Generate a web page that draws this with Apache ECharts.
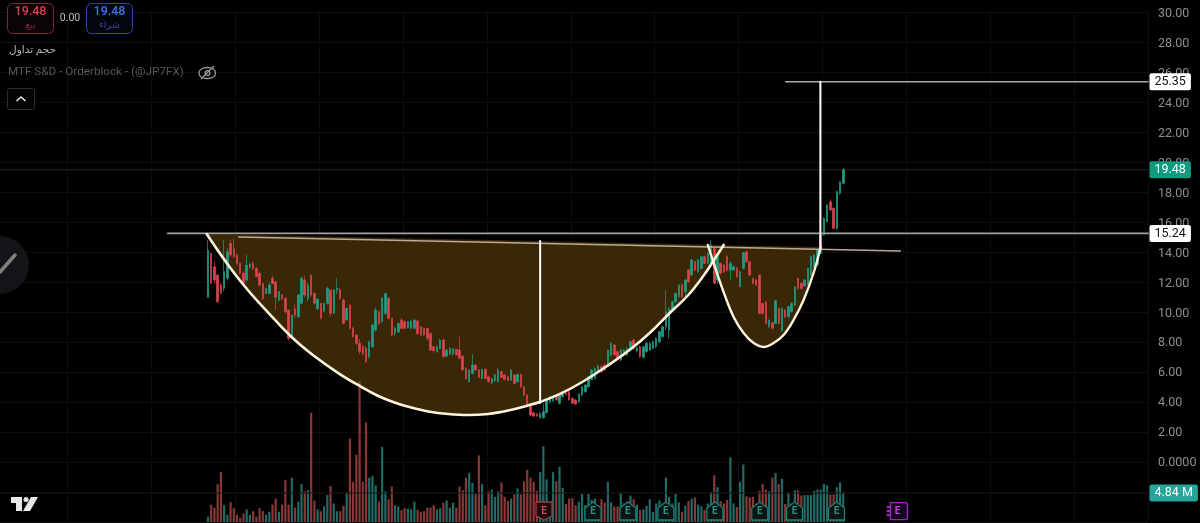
<!DOCTYPE html>
<html>
<head>
<meta charset="utf-8">
<style>html,body{margin:0;padding:0;background:#000}#c{width:1200px;height:523px}</style>
<script src="https://cdn.jsdelivr.net/npm/echarts@6/dist/echarts.min.js"></script>
</head>
<body>
<div id="c"></div>
<script>
// [open, close, low, high]
const candles = [
[10.96,14.13,10.96,14.8],[13.91,11.91,11.9,13.9],[13.02,12.13,11.9,13.35],[12.47,10.69,10.58,12.47],[11.8,11.24,11.2,11.9],
[11.58,12.69,11.36,14.8],[12.24,14.02,12.1,14.25],[14.58,13.8,13.7,14.8],[14.24,13.69,13.6,14.9],[13.8,13.24,13.1,13.9],
[13.24,12.58,12.5,13.3],[12.58,11.9,11.7,12.7],[12.13,13.13,12.0,13.8],[13.0,13.2,12.9,13.3],[13.24,12.9,12.8,13.4],
[12.9,12.36,12.3,13.0],[12.58,11.8,11.7,12.7],[11.9,10.9,10.8,11.95],[11.24,11.58,11.2,11.6],[11.24,11.8,11.2,12.0],
[12.24,11.9,11.85,12.4],[12.0,11.0,10.13,12.05],[10.8,11.36,10.7,11.4],[11.13,10.87,10.8,11.2],[10.9,10.02,9.9,11.0],
[10.13,8.24,8.1,10.15],[8.24,9.8,8.2,9.8],[10.2,9.8,9.6,10.5],[9.69,11.13,9.6,11.2],[10.58,12.24,10.5,12.4],
[12.13,11.13,11.0,12.4],[10.9,11.8,10.7,12.0],[12.47,11.13,11.0,12.5],[11.24,10.58,10.5,11.3],[10.24,10.87,10.1,10.9],
[10.58,9.58,9.5,10.6],[10.07,10.58,10.0,10.6],[10.58,11.58,10.5,11.7],[11.47,9.91,9.7,11.5],[9.91,11.47,9.9,11.5],
[11.45,11.6,11.2,12.25],[11.47,10.91,10.8,11.6],[10.8,9.24,9.2,10.9],[9.47,10.24,9.4,10.3],[10.47,8.91,8.85,10.5],
[8.91,8.36,8.3,9.0],[8.47,7.91,7.8,8.5],[7.91,7.36,7.2,8.2],[7.69,7.24,7.1,7.8],[7.58,6.69,6.6,7.7],
[7.02,8.02,6.9,8.1],[7.69,9.13,7.6,9.2],[8.8,10.13,8.7,10.3],[10.02,9.24,9.1,10.1],[9.35,10.91,9.3,11.0],
[9.91,11.24,9.8,11.25],[10.91,9.58,9.5,11.0],[9.58,8.46,8.4,9.6],[8.57,8.91,8.4,9.0],[8.68,9.24,8.6,9.3],
[9.46,8.91,8.85,9.6],[9.35,8.91,8.85,9.45],[8.95,9.35,8.9,9.4],[8.91,9.4,8.85,9.45],[8.91,9.46,8.85,9.5],
[9.4,8.57,8.5,9.45],[9.02,8.46,8.4,9.05],[8.91,8.46,8.4,8.95],[8.91,8.24,8.1,8.95],[8.57,7.46,7.4,8.6],
[7.69,7.42,7.3,7.75],[7.35,7.69,7.3,7.75],[7.57,8.13,7.5,8.2],[8.13,7.02,6.95,8.2],[7.06,7.46,7.0,7.5],
[7.2,7.57,7.15,7.65],[7.2,7.57,7.1,7.6],[7.5,7.13,7.1,7.55],[7.46,6.91,6.85,8.35],[7.06,6.13,6.1,7.1],
[6.24,5.57,5.5,6.3],[5.35,6.13,5.3,6.15],[5.91,6.46,5.85,7.2],[6.46,6.13,6.1,6.5],[6.13,5.64,5.6,6.2],
[5.57,6.17,5.5,6.2],[6.17,5.57,5.5,6.25],[5.68,5.35,5.3,5.7],[5.28,5.57,5.2,5.6],[5.42,5.8,5.35,5.9],
[5.35,6.13,5.3,6.25],[6.02,5.64,5.6,6.1],[5.8,5.51,5.45,5.85],[5.68,5.42,5.4,5.75],[5.46,6.13,5.4,6.2],
[5.8,5.24,5.2,5.85],[5.35,5.84,5.3,5.9],[5.84,5.02,4.95,5.9],[5.02,4.46,4.4,5.05],[4.46,3.8,3.7,4.5],
[3.86,3.13,3.05,3.9],[3.28,3.06,3.0,3.35],[3.2,3.06,3.0,3.25],[2.95,3.24,2.9,3.35],[2.95,3.35,2.9,3.9],
[3.3,4.1,3.2,4.15],[4.02,4.36,3.9,4.4],[4.09,4.31,4.0,4.4],[4.36,4.13,4.1,4.4],[3.91,4.47,3.85,4.5],
[4.36,4.58,4.3,4.6],[4.6,4.5,4.45,4.65],[4.69,4.13,4.1,4.75],[4.24,3.91,3.85,4.3],[4.13,3.87,3.8,4.2],
[4.02,4.53,3.95,4.55],[4.47,5.02,4.4,5.05],[4.69,5.13,4.6,5.2],[5.02,5.69,4.95,5.75],[5.51,6.13,5.45,6.2],
[5.58,6.24,5.5,6.3],[6.02,6.4,5.95,6.5],[6.36,6.02,5.95,6.4],[6.47,6.13,6.1,6.55],[6.47,7.47,6.4,7.5],
[7.13,7.91,7.05,8.0],[7.8,7.13,7.1,7.85],[7.36,6.91,6.8,7.4],[6.8,7.47,6.7,7.55],[7.13,7.47,7.05,7.55],
[7.13,7.58,7.05,7.65],[7.58,8.02,7.5,8.1],[8.13,7.58,7.5,8.2],[7.4,7.6,7.3,7.7],[7.69,7.02,6.95,7.75],
[6.98,7.69,6.9,7.75],[7.36,7.91,7.3,8.0],[7.47,7.91,7.4,8.0],[7.58,8.02,7.5,8.1],[7.69,8.24,7.6,8.3],
[8.02,8.69,7.95,8.75],[8.36,9.02,8.3,9.1],[9.02,10.02,8.8,11.47],[8.8,10.24,8.25,10.3],[10.13,10.69,10.05,10.75],
[10.69,11.24,10.6,11.3],[11.02,11.8,10.95,11.85],[11.8,11.02,10.95,11.9],[11.36,12.13,10.9,12.2],[12.8,12.02,11.95,12.85],
[12.47,13.47,12.4,13.55],[13.36,12.8,12.7,13.4],[12.69,13.47,12.6,13.55],[12.91,13.69,12.85,13.75],[13.69,13.24,13.2,13.75],
[13.24,13.91,13.2,14.0],[13.24,14.47,13.2,14.8],[14.24,11.91,11.9,14.3],[12.13,13.69,11.9,13.75],[13.24,12.58,12.5,13.3],
[13.13,12.69,12.6,13.2],[13.69,12.8,12.7,13.8],[12.8,13.24,12.13,13.4],[12.8,13.02,12.75,13.1],[12.91,12.35,12.3,13.0],
[11.69,12.69,11.65,12.75],[12.91,13.95,12.85,14.0],[14.0,13.35,13.3,14.1],[13.35,12.46,12.4,13.4],[12.24,11.91,11.85,12.3],
[12.13,11.8,11.75,12.2],[12.46,9.91,9.85,12.5],[10.57,9.91,9.85,10.6],[10.68,9.24,9.2,10.7],[9.02,9.46,8.95,9.5],
[9.28,8.91,8.85,9.35],[9.24,10.75,9.2,10.8],[10.24,9.24,9.2,10.3],[8.75,10.24,8.7,10.3],[10.13,9.68,9.6,10.2],
[9.68,10.35,9.6,10.4],[10.02,10.57,9.95,10.65],[10.46,11.68,10.4,11.7],[12.24,11.57,11.5,12.3],[11.91,11.57,11.5,11.95],
[11.73,12.13,11.7,12.2],[11.8,12.91,11.75,12.95],[12.46,13.68,12.4,13.75],[13.02,13.8,12.95,13.9],[13.13,14.13,13.1,14.2],
[13.91,15.13,13.85,15.2],[15.13,16.24,15.1,16.3],[16.02,17.13,16.0,17.2],[17.35,16.8,16.75,17.5],[16.91,15.57,15.5,17.0],
[15.57,18.02,15.5,18.1],[17.91,18.68,17.8,18.7],[18.57,19.48,18.5,19.6]
];
// volume, millions
const volumes = [
0.9,2.9,2.4,6.3,8.3,2.8,1.2,3.3,2.3,1.2,0.7,1.4,2.1,1.2,1.8,0.9,2.3,1.8,1.2,1.7,
2.9,3.9,1.7,2.9,7.0,2.9,7.4,2.4,3.4,6.3,5.1,5.3,18.2,3.6,2.1,1.8,2.6,4.5,6.0,3.1,
1.8,1.8,2.7,4.9,13.9,6.7,11.2,23.5,6.7,16.6,7.4,7.7,6.1,3.4,12.5,5.1,3.8,5.9,2.8,2.6,
2.0,2.3,2.2,2.1,3.4,2.0,1.7,1.8,2.4,2.4,2.8,2.1,2.3,3.2,3.6,2.4,3.2,2.4,5.9,5.3,
7.4,8.2,6.5,4.7,11.1,6.3,2.8,5.1,5.4,4.2,5.1,6.6,4.2,3.5,3.9,4.6,5.6,4.6,6.8,8.7,
7.4,6.7,5.2,8.3,12.6,7.1,2.2,8.3,6.8,9.2,5.7,3.0,3.9,4.0,2.8,3.4,4.7,2.8,4.7,3.7,
3.9,2.8,3.8,3.2,6.7,3.3,2.6,2.6,4.8,3.1,3.4,4.4,3.8,2.9,2.0,2.1,2.7,3.8,1.7,3.1,
3.6,3.1,7.4,4.2,3.1,4.7,3.3,1.7,2.7,3.5,3.9,4.1,2.9,2.6,2.0,3.1,4.9,7.8,5.8,3.5,
3.1,3.7,10.8,3.1,2.5,6.7,9.6,4.3,4.1,4.2,3.1,5.2,6.3,5.4,5.1,7.4,8.2,6.3,7.2,3.0,
4.8,3.1,5.3,5.3,4.4,4.5,4.5,4.5,5.2,5.4,5.4,6.3,6.1,4.6,4.6,5.8,6.6,4.84
];
// brush curves: [bar position, price]
const cupCurve = [[63.6,15.2],[70.7,13.0],[76.6,11.4],[82.8,9.93],[89.9,8.33],[96.1,7.2],[104.4,5.93],[111.6,5.0],[116.8,4.4],[121.8,3.97],[127.0,3.63],[132.3,3.37],[138.5,3.2],[144.7,3.13],[150.9,3.2],[157.1,3.43],[163.3,3.77],[167.3,4.03],[173.5,4.57],[180.6,5.4],[188.0,6.43],[195.1,7.53],[201.3,8.67],[206.9,9.87],[212.8,11.1],[217.7,12.43],[220.8,13.43],[223.9,14.47]];
const handleCurve = [[219.0,14.47],[220.8,13.27],[223.9,11.33],[227.0,9.67],[230.1,8.6],[233.2,7.93],[236.3,7.67],[239.4,7.93],[242.5,8.47],[245.6,9.47],[248.7,10.8],[251.8,12.6],[254.0,14.33]];
const cupDepthLine = [[167.0,14.73],[167.0,3.93]];
const breakoutLine = [[253.9,14.33],[253.9,25.35]];
const targetLine = [[243.1,25.35],[355.5,25.35]];
const resistanceLine = [[51.5,15.24],[355.5,15.24]];
const trendLine = [[73.5,15.0],[278.7,14.07]];
const lastPriceLine = [[-0.5,19.48],[355.5,19.48]];
const lastVolumeLine = [[-0.5,4.84],[355.5,4.84]];
const earningsPast = [[183.4,-3.27],[194.2,-3.27],[206.0,-3.27],[221.2,-3.27],[235.1,-3.27],[245.9,-3.27],[258.9,-3.27]];
const earningsMiss = [[168.2,-3.27]];
const earningsNext = [[277.8,-3.27]];
const leadingBars = 64;
const totalBars = 356;

const UP = '#1f9d88', DOWN = '#d9444f', UPV = '#1f6b66', DOWNV = '#873838';
const categories = Array.from({length: totalBars}, (_, i) => String(i));
const pad = Array(leadingBars).fill(['-','-','-','-']);
const padV = Array(leadingBars).fill('-');
const FONT = 'Roboto, "DejaVu Sans", sans-serif';

function polyFill(points, z) {
  return {
    type: 'custom', xAxisIndex: 1, yAxisIndex: 0, z, silent: true, clip: false,
    data: points,
    renderItem: (params, api) => params.dataIndex === 0 ? {
      type: 'polygon',
      shape: {points: points.map(p => api.coord(p))},
      style: {fill: '#3a2706'}
    } : null
  };
}
function seg(data, color, width, z, yAxisIndex) {
  return {type: 'line', xAxisIndex: 1, yAxisIndex: yAxisIndex || 0, data, symbol: 'none', silent: true, z,
          lineStyle: {color, width, cap: 'round'}, animation: false};
}
function valueTag(point, text, bg, fg) {
  return {type: 'scatter', xAxisIndex: 1, yAxisIndex: point.vol ? 1 : 0, z: 20, silent: true,
    data: [[355.5, point.v]], symbolSize: 1, itemStyle: {color: 'transparent', opacity: 1}, clip: false,
    label: {show: true, position: 'right', distance: 1, formatter: text, color: fg, backgroundColor: bg,
            fontFamily: FONT, fontSize: 12.5, padding: [4, 5, 1, 5], borderRadius: 2, lineHeight: 12, opacity: 1}};
}
function earn(data, path, fill, stroke, txt, size) {
  return {type: 'scatter', xAxisIndex: 1, yAxisIndex: 0, z: 8, silent: true, data,
    symbol: 'path://' + path, symbolSize: size,
    itemStyle: {color: fill, borderColor: stroke, borderWidth: 1.3, opacity: 1},
    label: {show: true, position: 'inside', formatter: 'E', color: txt, fontFamily: FONT, fontSize: 10, fontWeight: 'bold'}};
}

const uiText = (x, y, text, color, size, extra) => ({
  type: 'text', x, y, z: 100, silent: true,
  style: {text, fill: color, font: (extra && extra.weight || 'normal') + ' ' + size + 'px ' + FONT,
    textAlign: extra && extra.align || 'left', textVerticalAlign: 'middle'}
});

const chart = echarts.init(document.getElementById('c'), null, {renderer: 'canvas'});
chart.setOption({
  animation: false,
  backgroundColor: '#000',
  grid: [
    {left: -2, right: 52, top: 12, bottom: 1, containLabel: false},
    {left: -2, right: 52, top: 14, bottom: -1, containLabel: false}
  ],
  xAxis: [
    {type: 'category', data: categories, axisLine: {show: false}, axisTick: {show: false}, axisLabel: {show: false},
     splitLine: {show: true, interval: i => i % 26 === 21, lineStyle: {color: '#0e0e0e', width: 1}}},
    {type: 'value', min: -0.5, max: 355.5, show: false, splitLine: {show: false}},
    {type: 'value', gridIndex: 1, min: -0.5, max: 355.5, show: false, splitLine: {show: false}}
  ],
  yAxis: [
    {type: 'value', position: 'right', min: -4, max: 30, interval: 2,
     axisLine: {show: false}, axisTick: {show: false}, axisLabel: {show: false},
     splitLine: {show: true, lineStyle: {color: '#0e0e0e', width: 1}}},
    {type: 'value', min: 0, max: 85, show: false, splitLine: {show: false}},
    {type: 'value', gridIndex: 1, position: 'right', min: -4, max: 30, interval: 2,
     axisLine: {show: false}, axisTick: {show: false}, splitLine: {show: false},
     axisLabel: {margin: 10, color: '#8e8e8e', fontFamily: FONT, fontSize: 12.5,
       formatter: v => v < 0 ? '' : (v === 0 ? '0.0000' : v.toFixed(2))}}
  ],
  series: [
    polyFill(cupCurve, 1),
    polyFill(handleCurve, 1),
    {type: 'bar', xAxisIndex: 0, yAxisIndex: 1, z: 2, barWidth: 2.2, silent: true,
     data: padV.concat(volumes.map((v, i) => ({value: v, itemStyle: {color: candles[i][1] >= candles[i][0] ? UPV : DOWNV}})))},
    {type: 'candlestick', xAxisIndex: 0, yAxisIndex: 0, z: 3, barWidth: 2, silent: true,
     data: pad.concat(candles),
     itemStyle: {color: UP, color0: DOWN, borderColor: UP, borderColor0: DOWN, borderWidth: 0.7}},
    seg(lastPriceLine, '#262626', 1, 2),
    seg(lastVolumeLine, '#141414', 1, 2, 1),
    seg(trendLine, '#b8ab98', 1.6, 4),
    seg(resistanceLine, '#a0a0a0', 1.8, 5),
    seg(targetLine, '#a8a8a8', 1.5, 5),
    Object.assign(seg(cupCurve, '#fff3dc', 2.6, 6), {smooth: 0.4}),
    Object.assign(seg(handleCurve, '#fff3dc', 2.4, 6), {smooth: 0.4}),
    seg(cupDepthLine, '#ffffff', 2, 7),
    seg(breakoutLine, '#ffffff', 2, 7),
    earn(earningsPast, 'M8 0 L16 6 L16 18 L0 18 L0 6 Z', '#0a1513', '#1f7f73', '#25917f', [16, 18]),
    earn(earningsMiss, 'M0 0 L16 0 L16 14 L8 18 L0 14 Z', '#1c0b0d', '#a53a40', '#c4494f', [16, 18]),
    earn(earningsNext, 'M3 0 H18 A2 2 0 0 1 20 2 V15 A2 2 0 0 1 18 17 H3 V13 H0 V12 H3 V9 H0 V8 H3 V5 H0 V4 H3 Z', '#16041c', '#a21fc4', '#c63fe6', [20, 17]),
    valueTag({v: 25.35}, '25.35', '#ffffff', '#111'),
    valueTag({v: 19.48}, '19.48', '#109a80', '#ffffff'),
    valueTag({v: 15.24}, '15.24', '#ffffff', '#111'),
    valueTag({v: 4.84, vol: true}, '4.84 M', '#26a69a', '#ffffff')
  ],
  graphic: {elements: [
    {type: 'rect', z: 100, silent: true, shape: {x: 7.5, y: 3.5, width: 46, height: 30, r: 5}, style: {fill: '#0a0406', stroke: '#7a2a32', lineWidth: 1}},
    {type: 'rect', z: 100, silent: true, shape: {x: 86.5, y: 3.5, width: 46, height: 30, r: 5}, style: {fill: '#04060e', stroke: '#2c4a9c', lineWidth: 1}},
    uiText(30.5, 12, '19.48', '#d9404e', 12.5, {align: 'center', weight: '500'}),
    uiText(30.5, 26, 'بيع', '#8a2a35', 9.5, {align: 'center'}),
    uiText(70, 18, '0.00', '#bdbdbd', 10.5, {align: 'center'}),
    uiText(109.5, 12, '19.48', '#3f72e0', 12.5, {align: 'center', weight: '500'}),
    uiText(109.5, 26, 'شراء', '#2c4e9c', 9.5, {align: 'center'}),
    uiText(56, 50, 'حجم تداول', '#b5b5b5', 10.5, {align: 'right'}),
    uiText(8, 72.5, 'MTF S&D - Orderblock - (@JP7FX)', '#565656', 11.7, {}),
    {type: 'polygon', z: 100, silent: true, shape: {points: [[199, 73], [207.5, 67.5], [215.5, 73], [207.5, 78.5]], smooth: 0.6}, style: {fill: 'none', stroke: '#9a9a9a', lineWidth: 1.3}},
    {type: 'circle', z: 100, silent: true, shape: {cx: 207.5, cy: 73, r: 2.4}, style: {fill: 'none', stroke: '#9a9a9a', lineWidth: 1.2}},
    {type: 'line', z: 100, silent: true, shape: {x1: 201, y1: 79, x2: 214, y2: 66}, style: {stroke: '#9a9a9a', lineWidth: 1.3}},
    {type: 'rect', z: 100, silent: true, shape: {x: 7.5, y: 88.5, width: 27, height: 21, r: 2}, style: {fill: '#050505', stroke: '#2c2c2c', lineWidth: 1}},
    {type: 'polyline', z: 100, silent: true, shape: {points: [[16.5, 101], [21, 97], [25.5, 101]]}, style: {fill: 'none', stroke: '#e6e6e6', lineWidth: 1.6}},
    {type: 'circle', z: 100, silent: true, shape: {cx: 0, cy: 265, r: 29}, style: {fill: '#131318'}},
    {type: 'line', z: 100, silent: true, shape: {x1: 0, y1: 272, x2: 15, y2: 255}, style: {stroke: '#808080', lineWidth: 3.5, lineCap: 'round'}},
    {type: 'polygon', z: 100, silent: true, shape: {points: [[11, 497], [22, 497], [22, 511], [16, 511], [16, 503], [11, 503]]}, style: {fill: '#e8e8e8'}},
    {type: 'circle', z: 100, silent: true, shape: {cx: 26, cy: 499.5, r: 2.5}, style: {fill: '#e8e8e8'}},
    {type: 'polygon', z: 100, silent: true, shape: {points: [[31, 497], [38, 497], [30, 511], [23, 511]]}, style: {fill: '#e8e8e8'}}
  ]}
});
</script>
</body>
</html>
